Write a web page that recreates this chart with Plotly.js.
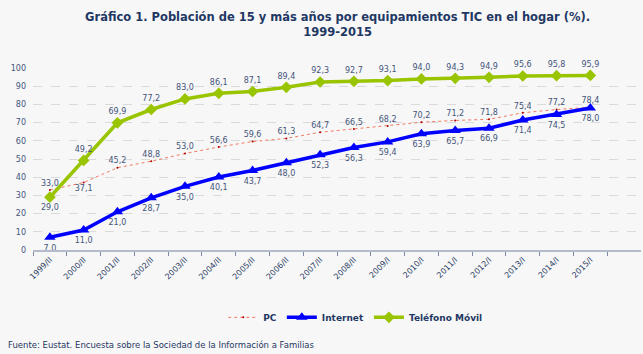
<!DOCTYPE html>
<html>
<head>
<meta charset="utf-8">
<script src="https://cdn.plot.ly/plotly-3.0.1.min.js"></script>
<style>html,body{margin:0;padding:0;background:#f7f7f7;}#chart{width:643px;height:354px;}</style>
</head>
<body>
<div id="chart"></div>
<script>
var categories = ["1999/II","2000/II","2001/II","2002/II","2003/II","2004/II","2005/II","2006/II","2007/II","2008/II","2009/I","2010/I","2011/I","2012/I","2013/I","2014/I","2015/I"];
var pc = [33.0,37.1,45.2,48.8,53.0,56.6,59.6,61.3,64.7,66.5,68.2,70.2,71.2,71.8,75.4,77.2,78.4];
var internet = [7.0,11.0,21.0,28.7,35.0,40.1,43.7,48.0,52.3,56.3,59.4,63.9,65.7,66.9,71.4,74.5,78.0];
var movil = [29.0,49.2,69.9,77.2,83.0,86.1,87.1,89.4,92.3,92.7,93.1,94.0,94.3,94.9,95.6,95.8,95.9];

function fmt(v){ return v.toFixed(1).replace('.', ','); }
var labelFont = {family:'DejaVu Sans, Verdana, sans-serif', size:8, color:'#44557a'};

var pcPos = pc.map(function(v,i){ return i===1 ? 'bottom center' : 'top center'; });
var movPos = movil.map(function(v,i){ return i===0 ? 'bottom center' : 'top center'; });

var traces = [
  {x:categories, y:pc, name:'PC', type:'scatter', mode:'lines+markers+text',
   line:{color:'#f07a60', width:1, dash:'dot'},
   marker:{size:2, color:'#b00000'},
   text:pc.map(fmt), textposition:pcPos, textfont:labelFont, cliponaxis:false},
  {x:categories, y:internet, name:'Internet', type:'scatter', mode:'lines+markers+text',
   line:{color:'#0000ff', width:3.5},
   marker:{symbol:'triangle-up', size:10, color:'#0000ff'},
   text:internet.map(fmt), textposition:'bottom center', textfont:labelFont, cliponaxis:false},
  {x:categories, y:movil, name:'Teléfono Móvil', type:'scatter', mode:'lines+markers+text',
   line:{color:'#99c400', width:3.5},
   marker:{symbol:'diamond', size:9, color:'#99c400'},
   text:movil.map(fmt), textposition:movPos, textfont:labelFont, cliponaxis:false}
];

var layout = {
  width:643, height:354,
  paper_bgcolor:'#f7f7f7', plot_bgcolor:'#f7f7f7',
  margin:{l:33, r:2, t:68, b:104},
  title:{text:'<b>Gráfico 1. Población de 15 y más años por equipamientos TIC en el hogar (%).<br>1999-2015</b>',
         font:{family:'DejaVu Sans, Verdana, sans-serif', size:11.5, color:'#1f3864'},
         x:0.525, xanchor:'center', y:0.94, yanchor:'top'},
  xaxis:{type:'category', categoryarray:categories, range:[-0.5,17.5],
         tickson:'boundaries', ticks:'outside', ticklen:4, tickcolor:'#7f8aa0',
         tickangle:-45, tickfont:{family:'DejaVu Sans, Verdana, sans-serif', size:8, color:'#2b3d66'},
         showline:true, linecolor:'#b4bccb', linewidth:2, showgrid:false, zeroline:false, fixedrange:true},
  yaxis:{range:[0,100], dtick:10, showgrid:true, gridcolor:'#dadada', griddash:'dash', gridwidth:1,
         zeroline:false, showline:false, ticks:'', ticklen:0, ticklabelstandoff:6,
         tickfont:{family:'DejaVu Sans, Verdana, sans-serif', size:8, color:'#44557a'}, fixedrange:true},
  showlegend:true,
  legend:{orientation:'h', x:0.53, xanchor:'center', y:-0.37, yanchor:'middle',
          font:{family:'DejaVu Sans, Verdana, sans-serif', size:9, color:'#1f3864', weight:'bold'},
          bgcolor:'rgba(0,0,0,0)', itemwidth:30, tracegroupgap:0},
  annotations:[{text:'Fuente: Eustat. Encuesta sobre la Sociedad de la Información a Familias',
                xref:'paper', yref:'paper', x:-0.045, xanchor:'left', y:-0.52, yanchor:'middle',
                showarrow:false, font:{family:'DejaVu Sans, Verdana, sans-serif', size:8.5, color:'#1f3864'}}]
};

Plotly.newPlot('chart', traces, layout, {displayModeBar:false, staticPlot:true});
</script>
</body>
</html>
